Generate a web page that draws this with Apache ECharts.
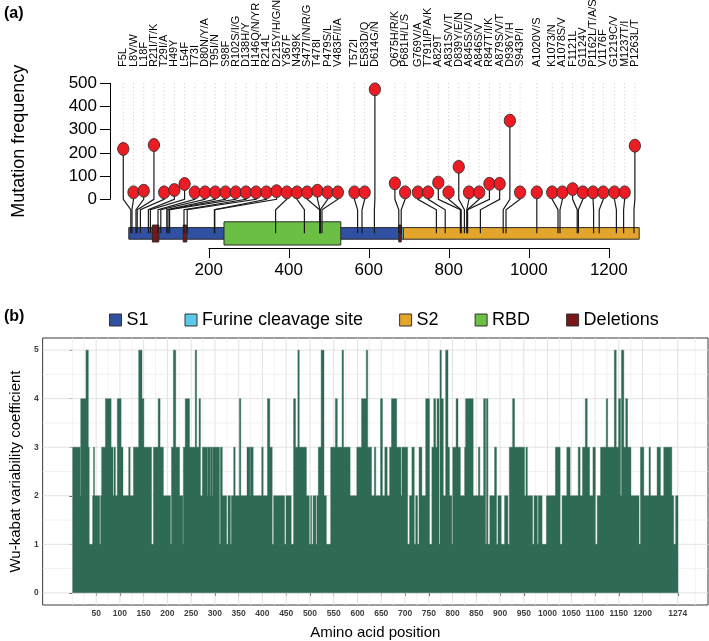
<!DOCTYPE html>
<html><head><meta charset="utf-8">
<script src="https://cdn.jsdelivr.net/npm/echarts@6/dist/echarts.min.js"></script>
<style>html,body{margin:0;padding:0;background:#fff}#c{width:709px;height:641px}</style>
</head><body><div id="c"></div>
<script>
// ---------------- Panel (a): lollipop data ----------------
const mutationLabels = ['F5L','L8V/W','L18F','R21I/T/K','T29I/A','H49Y','L54F','T73I','D80N/Y/A','T95I/N','S98F','R102S/I/G','D138H/Y','H146Q/N/YR','R214L','D215Y/H/G/N','Y367F','N439K','S477I/N/R/G','T478I','P479S/L','V483F/I/A','T572I','E583D/Q','D614G/N','Q675H/R/K','P681H/L/S','G769V/A','T791I/P/A/K','A829T','A831S/V/T','D839Y/E/N','A845S/V/D','A846S/V','R847T/I/K','A879S/V/T','D936Y/H','S943P/I','A1020V/S','K1073/N','A1078S/V','F1121L','G1124V','P1162L/T/A/S','V1176F','G1219C/V','M1237T/I','P1263L/T'];
const mutationPositions = [5,8,18,21,29,49,54,73,80,95,98,102,138,146,214,215,367,439,477,478,479,483,572,583,614,675,681,769,791,829,831,839,845,846,847,879,936,943,1020,1073,1078,1121,1124,1162,1176,1219,1237,1263];
const mutationFrequency = [217,30,37,234,30,40,66,30,30,30,30,30,30,30,30,35,30,30,30,37,30,30,30,30,474,69,30,30,30,72,30,140,30,30,67,67,339,30,30,30,30,44,30,30,30,30,30,231];

// protein domains [start, end]
const s1Region = [[0, 680]];
const furinRegion = [[681, 686]];
const s2Region = [[686, 1276]];
const rbdRegion = [[238, 530]];
const deletionRegions = [[59, 75], [136, 145], [675, 681]];

const panelAXTicks = [200, 400, 600, 800, 1000, 1200];
const panelAYTicks = [0, 100, 200, 300, 400, 500];

// ---------------- Panel (b): Wu-Kabat runs [start position, value] ----------------
const wuKabatRuns = [[1,3],[17,2],[18,4],[29,5],[34,3],[36,1],[43,2],[45,3],[47,2],[58,1],[60,2],[62,3],[70,4],[82,3],[86,2],[88,3],[91,2],[95,4],[103,3],[107,2],[119,3],[122,2],[129,3],[140,5],[147,4],[151,3],[167,1],[171,3],[181,4],[185,3],[192,2],[207,1],[209,3],[213,5],[218,3],[226,2],[233,1],[234,3],[238,4],[247,3],[259,5],[262,3],[267,4],[270,2],[274,3],[284,2],[285,3],[290,2],[291,3],[295,2],[296,3],[310,1],[312,3],[316,2],[325,1],[328,2],[333,1],[335,2],[340,3],[343,2],[352,4],[355,2],[368,3],[374,2],[375,3],[381,2],[399,3],[402,2],[411,4],[416,3],[421,1],[424,2],[447,1],[450,2],[461,1],[466,4],[470,3],[475,5],[478,3],[493,2],[499,1],[502,2],[504,1],[507,2],[513,1],[515,2],[518,3],[524,5],[530,2],[535,1],[544,3],[554,4],[558,3],[568,5],[571,3],[585,2],[599,3],[609,4],[619,5],[622,3],[630,2],[636,3],[639,2],[649,4],[653,2],[658,3],[663,2],[668,3],[672,4],[683,3],[692,2],[694,3],[706,1],[710,2],[715,3],[720,1],[723,2],[727,1],[730,3],[736,2],[744,4],[752,1],[757,3],[761,4],[765,3],[768,4],[772,1],[774,5],[777,4],[781,2],[786,5],[791,3],[794,2],[799,1],[801,3],[808,4],[812,3],[817,2],[826,3],[828,4],[844,2],[855,3],[858,2],[866,4],[870,1],[872,4],[875,1],[879,2],[889,3],[893,1],[896,2],[903,1],[910,2],[917,1],[920,3],[927,4],[931,3],[952,2],[955,3],[958,2],[969,1],[972,2],[979,1],[981,2],[989,1],[998,2],[1017,3],[1027,1],[1031,2],[1041,3],[1048,2],[1065,3],[1069,2],[1074,3],[1080,4],[1084,3],[1089,2],[1096,3],[1101,1],[1105,2],[1112,3],[1124,4],[1127,3],[1141,5],[1145,3],[1150,4],[1154,2],[1156,5],[1161,3],[1165,4],[1169,3],[1176,2],[1193,1],[1196,3],[1203,2],[1214,3],[1217,2],[1231,3],[1238,2],[1245,3],[1262,2],[1266,1],[1270,2]];
const sequenceLength = 1274;
const panelBXTicks = [50,100,150,200,250,300,350,400,450,500,550,600,650,700,750,800,850,900,950,1000,1050,1100,1150,1200,1274];
const panelBYTicks = [0,1,2,3,4,5];

// ---------------- helpers ----------------
const FONT = "'Liberation Sans', Arial, Helvetica, sans-serif";

// spread labels with a minimum spacing (least-squares, isotonic regression on offsets)
function layoutColumns(positions, origin, width, nSlots) {
  const n = positions.length;
  const v = positions.map((p, i) => (p - origin) / width - i);
  const blocks = [];
  v.forEach(x => {
    blocks.push({ sum: x, cnt: 1 });
    while (blocks.length > 1) {
      const a = blocks[blocks.length - 2], b = blocks[blocks.length - 1];
      if (a.sum / a.cnt > b.sum / b.cnt) { blocks.pop(); a.sum += b.sum; a.cnt += b.cnt; } else break;
    }
  });
  const z = [];
  blocks.forEach(b => {
    const m = Math.min(Math.max(b.sum / b.cnt, 0), nSlots - n);
    for (let k = 0; k < b.cnt; k++) z.push(m);
  });
  return z.map((m, i) => origin + (i + m) * width);
}
const columnX = layoutColumns(mutationPositions, -13.8, 25.55, 52);
const mutationData = mutationPositions.map((p, i) => [p, mutationFrequency[i], columnX[i], i]);

const STEM_BASE = -146, STEM_BEND1 = -45, STEM_BEND2 = 0;

function domainSeries(name, data, color, yTop, yBottom) {
  return {
    name, type: 'custom', xAxisIndex: 0, yAxisIndex: 0, itemStyle: { color },
    data,
    renderItem(params, api) {
      const p0 = api.coord([api.value(0), yTop]);
      const p1 = api.coord([api.value(1), yBottom]);
      return { type: 'rect', shape: { x: p0[0], y: p0[1], width: p1[0] - p0[0], height: p1[1] - p0[1] },
        style: { fill: color, stroke: '#2b2b2b', lineWidth: 1 } };
    }
  };
}

// runs -> [start, end, value]
const wuRects = wuKabatRuns.map((r, i) => [r[0] - 0.5, (i + 1 < wuKabatRuns.length ? wuKabatRuns[i + 1][0] : sequenceLength + 1) - 0.5, r[1]]);

const bMinorX = [0, 25];
for (let i = 0; i < panelBXTicks.length - 1; i++) bMinorX.push((panelBXTicks[i] + panelBXTicks[i + 1]) / 2);
bMinorX.push(1311);
const bMinorY = [0.5, 1.5, 2.5, 3.5, 4.5];
const B_XMIN = -62.65, B_XMAX = 1337.65, B_YMIN = -0.25, B_YMAX = 5.25;
const plainNum = v => String(v);

const chart = echarts.init(document.getElementById('c'));
const option = {
  animation: false,
  textStyle: { fontFamily: FONT },
  grid: [
    { left: 128.8, top: 69.38, width: 520, height: 178.64 },
    { left: 110, top: 83.3, width: 1, height: 116 },
    { left: 208.8, top: 247, width: 400, height: 1 },
    { left: 34, top: 338, width: 674, height: 267, show: true, borderColor: '#3a3a3a', borderWidth: 1, backgroundColor: '#fff' }
  ],
  xAxis: [
    { gridIndex: 0, type: 'value', min: 0, max: 1300, show: false },
    { gridIndex: 1, type: 'value', min: 0, max: 1, show: false },
    { gridIndex: 2, type: 'value', min: 200, max: 1200, interval: 200,
      axisLine: { show: true, lineStyle: { color: '#000', width: 1 } },
      axisTick: { show: true, length: 10, lineStyle: { color: '#000' } },
      axisLabel: { fontSize: 17, color: '#000', margin: 14, fontFamily: FONT, formatter: plainNum },
      splitLine: { show: false } },
    { gridIndex: 3, type: 'value', min: B_XMIN, max: B_XMAX,
      axisLine: { show: false },
      axisTick: { show: true, customValues: panelBXTicks, length: 3, lineStyle: { color: '#333' } },
      axisLabel: { customValues: panelBXTicks, fontSize: 8.5, fontWeight: 'bold', color: '#404040', margin: 4, fontFamily: FONT, formatter: plainNum },
      splitLine: { show: false },
      name: 'Amino acid position', nameLocation: 'middle', nameGap: 20,
      nameTextStyle: { fontSize: 15, color: '#000', fontFamily: FONT } }
  ],
  yAxis: [
    { gridIndex: 0, type: 'value', min: -210, max: 560, show: false },
    { gridIndex: 1, type: 'value', min: 0, max: 500, interval: 100,
      axisLine: { show: true, lineStyle: { color: '#000', width: 1 } },
      axisTick: { show: true, length: 10, lineStyle: { color: '#000' } },
      axisLabel: { fontSize: 17, color: '#000', margin: 13, fontFamily: FONT, formatter: plainNum },
      splitLine: { show: false },
      name: 'Mutation frequency', nameLocation: 'middle', nameGap: 82,
      nameTextStyle: { fontSize: 18, color: '#000', fontFamily: FONT } },
    { gridIndex: 2, type: 'value', min: 0, max: 1, show: false },
    { gridIndex: 3, type: 'value', min: B_YMIN, max: B_YMAX,
      axisLine: { show: false },
      axisTick: { show: true, customValues: panelBYTicks, length: 3, lineStyle: { color: '#333' } },
      axisLabel: { customValues: panelBYTicks, fontSize: 8.5, fontWeight: 'bold', color: '#404040', margin: 4, fontFamily: FONT, formatter: plainNum },
      splitLine: { show: false },
      name: 'Wu-kabat variability coefficient', nameLocation: 'middle', nameGap: 16,
      nameTextStyle: { fontSize: 15, color: '#000', fontFamily: FONT } }
  ],
  legend: {
    data: ['S1', 'Furine cleavage site', 'S2', 'RBD', 'Deletions'],
    left: 104, top: 306, icon: 'rect', itemWidth: 12, itemHeight: 12, itemGap: 36,
    selectedMode: false,
    itemStyle: { borderColor: '#333', borderWidth: 1 },
    textStyle: { fontSize: 18, color: '#000', fontFamily: FONT }
  },
  graphic: [
    { type: 'text', left: 4, top: 6, style: { text: '(a)', font: `bold 16px ${FONT}`, fill: '#000' } },
    { type: 'text', left: 4, top: 309, style: { text: '(b)', font: `bold 16px ${FONT}`, fill: '#000' } }
  ],
  series: [
    domainSeries('S1', s1Region, '#3050a2', -122, -172),
    domainSeries('S2', s2Region, '#e3a52b', -122, -172),
    domainSeries('Furine cleavage site', furinRegion, '#5cc8ec', -122, -172),
    domainSeries('RBD', rbdRegion, '#6cbf45', -97, -197),
    domainSeries('Deletions', deletionRegions, '#7a1518', -111, -184),
    { name: 'stems', type: 'custom', xAxisIndex: 0, yAxisIndex: 0, data: mutationData,
      renderItem(params, api) {
        const pos = api.value(0), f = api.value(1), col = api.value(2);
        const a = api.coord([pos, STEM_BASE]), b = api.coord([pos, STEM_BEND1]);
        const c = api.coord([col, STEM_BEND2]), d = api.coord([col, f]);
        return { type: 'polyline', shape: { points: [a, b, c, d] }, style: { stroke: '#1a1a1a', lineWidth: 1.2, fill: null } };
      } },
    { name: 'heads', type: 'custom', xAxisIndex: 0, yAxisIndex: 0, data: mutationData,
      renderItem(params, api) {
        const f = api.value(1), col = api.value(2), i = api.value(3);
        const c = api.coord([col, f]);
        const top = api.coord([col, 500]);
        const lab = api.coord([col, 570]);
        const children = [];
        if (c[1] - 6.4 > top[1]) children.push({ type: 'line', shape: { x1: top[0], y1: top[1], x2: c[0], y2: c[1] - 6.4 },
          style: { stroke: '#bdbdbd', lineWidth: 0.8, lineDash: [1, 2.6] } });
        children.push({ type: 'ellipse', shape: { cx: c[0], cy: c[1], rx: 5.6, ry: 6.4 }, style: { fill: '#ec1c24', stroke: '#2a2a2a', lineWidth: 0.9 } });
        children.push({ type: 'text', x: lab[0], y: lab[1], rotation: Math.PI / 2,
          style: { text: mutationLabels[i], font: `11px ${FONT}`, fill: '#000', align: 'left', verticalAlign: 'middle' } });
        return { type: 'group', children };
      } },
    // panel (b) grid lines
    { name: 'vgrid', type: 'custom', xAxisIndex: 3, yAxisIndex: 3, silent: true,
      data: panelBXTicks.map(v => [v, 1]).concat(bMinorX.map(v => [v, 0])),
      renderItem(params, api) {
        const a = api.coord([api.value(0), B_YMIN]), b = api.coord([api.value(0), B_YMAX]);
        const major = api.value(1) === 1;
        return { type: 'line', shape: { x1: a[0], y1: a[1], x2: b[0], y2: b[1] },
          style: { stroke: major ? '#e2e2e2' : '#efefef', lineWidth: major ? 1 : 0.8 } };
      } },
    { name: 'hgrid', type: 'custom', xAxisIndex: 3, yAxisIndex: 3, silent: true,
      data: panelBYTicks.map(v => [v, 1]).concat(bMinorY.map(v => [v, 0])),
      renderItem(params, api) {
        const a = api.coord([B_XMIN, api.value(0)]), b = api.coord([B_XMAX, api.value(0)]);
        const major = api.value(1) === 1;
        return { type: 'line', shape: { x1: a[0], y1: a[1], x2: b[0], y2: b[1] },
          style: { stroke: major ? '#e2e2e2' : '#efefef', lineWidth: major ? 1 : 0.8 } };
      } },
    // Wu-Kabat profile: one stepped polygon built from all runs through the axis scales
    { name: 'Wu-Kabat', type: 'custom', xAxisIndex: 3, yAxisIndex: 3, data: wuRects,
      renderItem(params, api) {
        if (params.dataIndex !== 0) return null;
        const pts = [api.coord([wuRects[0][0], 0])];
        wuRects.forEach(r => { pts.push(api.coord([r[0], r[2]])); pts.push(api.coord([r[1], r[2]])); });
        pts.push(api.coord([wuRects[wuRects.length - 1][1], 0]));
        return { type: 'polygon', shape: { points: pts }, style: { fill: '#2f6a54', stroke: '#2f6a54', lineWidth: 0.4 } };
      } }
  ]
};
chart.setOption(option);
</script>
</body></html>
